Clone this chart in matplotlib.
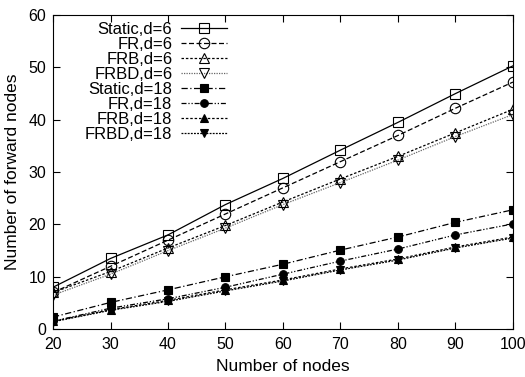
import matplotlib
matplotlib.use("Agg")
import matplotlib.pyplot as plt

plt.rcParams['font.family'] = ['Liberation Sans', 'DejaVu Sans']

nodes = [20, 30, 40, 50, 60, 70, 80, 90, 100]

static_d6 = [8, 13.5, 18, 23.8, 28.8, 34.2, 39.5, 45, 50.3]
fr_d6 = [7, 12, 17, 22, 27, 32, 37, 42.2, 47.2]
frb_d6 = [7, 11, 15.5, 19.8, 24.3, 28.7, 33, 37.5, 42]
frbd_d6 = [6.5, 10.5, 15, 19.3, 23.8, 28, 32.3, 36.8, 41]
static_d18 = [2.3, 5.1, 7.5, 10, 12.4, 15.1, 17.6, 20.4, 22.8]
fr_d18 = [1.5, 4, 5.8, 8, 10.5, 13, 15.3, 18, 20.1]
frb_d18 = [1.5, 3.7, 5.5, 7.5, 9.4, 11.5, 13.4, 15.7, 17.6]
frbd_d18 = [1.4, 3.6, 5.3, 7.3, 9.2, 11.3, 13.2, 15.5, 17.4]

series = [
    ("Static,d=6", static_d6, "s", "none", "-", "black"),
    ("FR,d=6", fr_d6, "o", "none", (0, (4, 2)), "black"),
    ("FRB,d=6", frb_d6, "^", "none", (0, (2, 1.5)), "black"),
    ("FRBD,d=6", frbd_d6, "v", "none", (0, (1, 1)), "#666666"),
    ("Static,d=18", static_d18, "s", "black", (0, (5, 2, 1, 2)), "black"),
    ("FR,d=18", fr_d18, "o", "black", (0, (4, 1.5, 1, 1.5, 1, 1.5)), "black"),
    ("FRB,d=18", frb_d18, "^", "black", (0, (2, 1.5)), "black"),
    ("FRBD,d=18", frbd_d18, "v", "black", (0, (1.5, 1)), "black"),
]

fig = plt.figure(figsize=(5.25, 3.77), dpi=100)
ax = fig.add_axes([0.101, 0.127, 0.876, 0.833])

for label, vals, mk, fc, ls, col in series:
    ax.plot(nodes, vals, marker=mk, markerfacecolor=fc, markeredgecolor="black",
            color=col, linestyle=ls, linewidth=0.9, markersize=7.5 if fc == "none" else 5.5,
            markeredgewidth=0.8, label=label)

ax.set_xlim(20, 100)
ax.set_ylim(0, 60)
ax.set_xticks(nodes)
ax.set_yticks(range(0, 61, 10))
ax.tick_params(direction="in", top=True, right=True, labelsize=11.5, length=5)
ax.tick_params(axis="x", pad=6)
ax.tick_params(axis="y", pad=5)
ax.set_xlabel("Number of nodes", fontsize=12.5, labelpad=5)
ax.set_ylabel("Number of forward nodes", fontsize=12.5, labelpad=6)

ax.legend(loc="upper left", frameon=False, markerfirst=False, fontsize=12,
          handlelength=2.8, handletextpad=0.5, labelspacing=0.0, borderaxespad=0,
          bbox_to_anchor=(0.055, 1.0))

plt.savefig("out.png", dpi=100)
